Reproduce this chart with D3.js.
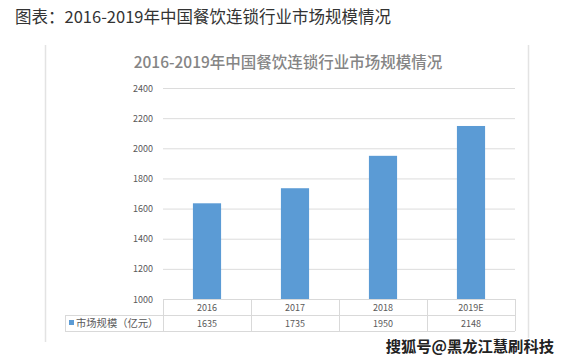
<!DOCTYPE html>
<html>
<head>
<meta charset="utf-8">
<script src="https://cdn.jsdelivr.net/npm/d3@7"></script>
<style>
  body { margin: 0; background: #fff; }
  text { font-family: "Noto Sans CJK SC", "Microsoft YaHei", sans-serif; }
</style>
</head>
<body>
<svg id="chart" width="569" height="363"></svg>
<script>
const years = ["2016", "2017", "2018", "2019E"];
const marketSize = [1635, 1735, 1950, 2148];
const yTicks = [1000, 1200, 1400, 1600, 1800, 2000, 2200, 2400];
const seriesName = "市场规模（亿元）";
const pageTitle = "图表：2016-2019年中国餐饮连锁行业市场规模情况";
const chartTitle = "2016-2019年中国餐饮连锁行业市场规模情况";
const watermark = "搜狐号@黑龙江慧刷科技";

const svg = d3.select("#chart");
const plot = { left: 163, right: 515, top: 88, bottom: 299 };
const rowH = 16;

// page title
svg.append("text")
  .attr("x", 15).attr("y", 23)
  .attr("font-size", 16.5).attr("fill", "#333")
  .text(pageTitle);

// chart frame (only the side borders are visible)
svg.append("line")
  .attr("x1", 45.5).attr("x2", 45.5).attr("y1", 45).attr("y2", 342)
  .attr("stroke", "#e3e3e3").attr("stroke-width", 1.5);
svg.append("line")
  .attr("x1", 528.5).attr("x2", 528.5).attr("y1", 45).attr("y2", 342)
  .attr("stroke", "#e3e3e3").attr("stroke-width", 1.5);

svg.append("text")
  .attr("x", 288).attr("y", 68)
  .attr("text-anchor", "middle")
  .attr("font-size", 15.5).attr("font-weight", 500).attr("fill", "#858585")
  .text(chartTitle);

const x = d3.scaleBand()
  .domain(years)
  .range([plot.left, plot.right])
  .paddingInner(0.68).paddingOuter(0.34);

const y = d3.scaleLinear()
  .domain([1000, 2400])
  .range([plot.bottom, plot.top]);

// gridlines
svg.append("g")
  .selectAll("line")
  .data(yTicks)
  .join("line")
  .attr("x1", plot.left).attr("x2", plot.right)
  .attr("y1", d => y(d) + 0.5).attr("y2", d => y(d) + 0.5)
  .attr("stroke", "#dcdcdc").attr("stroke-width", 1);

// y labels
svg.append("g")
  .selectAll("text")
  .data(yTicks)
  .join("text")
  .attr("x", 153).attr("y", d => y(d) + 3.5)
  .attr("text-anchor", "end")
  .attr("font-size", 9).attr("fill", "#595959")
  .text(d => d);

// bars
svg.append("g")
  .selectAll("rect")
  .data(marketSize)
  .join("rect")
  .attr("x", (d, i) => x(years[i]))
  .attr("y", d => y(d))
  .attr("width", x.bandwidth())
  .attr("height", d => y(1000) - y(d))
  .attr("fill", "#5b9bd5");

// data table under the axis
const cellW = x.step();
const table = svg.append("g").attr("stroke", "#d9d9d9").attr("fill", "none");
table.append("line")
  .attr("x1", plot.left).attr("x2", plot.right)
  .attr("y1", plot.bottom + 0.5).attr("y2", plot.bottom + 0.5);
table.append("line")
  .attr("x1", 65).attr("x2", plot.right)
  .attr("y1", plot.bottom + rowH + 0.5).attr("y2", plot.bottom + rowH + 0.5);
table.append("line")
  .attr("x1", 65).attr("x2", plot.right)
  .attr("y1", plot.bottom + rowH * 2 + 0.5).attr("y2", plot.bottom + rowH * 2 + 0.5);
table.append("line")
  .attr("x1", 65.5).attr("x2", 65.5)
  .attr("y1", plot.bottom + rowH).attr("y2", plot.bottom + rowH * 2);
table.selectAll("line.v")
  .data(d3.range(years.length + 1))
  .join("line")
  .attr("class", "v")
  .attr("x1", i => plot.left + i * cellW + 0.5)
  .attr("x2", i => plot.left + i * cellW + 0.5)
  .attr("y1", plot.bottom).attr("y2", plot.bottom + rowH * 2);

svg.append("g")
  .selectAll("text")
  .data(years)
  .join("text")
  .attr("x", d => x(d) + x.bandwidth() / 2)
  .attr("y", plot.bottom + 11.5)
  .attr("text-anchor", "middle")
  .attr("font-size", 9).attr("fill", "#595959")
  .text(d => d);

svg.append("g")
  .selectAll("text")
  .data(marketSize)
  .join("text")
  .attr("x", (d, i) => x(years[i]) + x.bandwidth() / 2)
  .attr("y", plot.bottom + rowH + 11.5)
  .attr("text-anchor", "middle")
  .attr("font-size", 9).attr("fill", "#595959")
  .text(d => d);

// legend key in the table
svg.append("rect")
  .attr("x", 69).attr("y", plot.bottom + rowH + 5)
  .attr("width", 5).attr("height", 5)
  .attr("fill", "#5b9bd5");
svg.append("text")
  .attr("x", 76).attr("y", plot.bottom + rowH + 11.5)
  .attr("font-size", 10.3).attr("fill", "#595959")
  .text(seriesName);

// watermark
svg.append("text")
  .attr("x", 554).attr("y", 352)
  .attr("text-anchor", "end")
  .attr("font-size", 15.3).attr("font-weight", "bold")
  .attr("fill", "#222").attr("stroke", "#fff").attr("stroke-width", 2.5)
  .attr("paint-order", "stroke")
  .text(watermark);
</script>
</body>
</html>
